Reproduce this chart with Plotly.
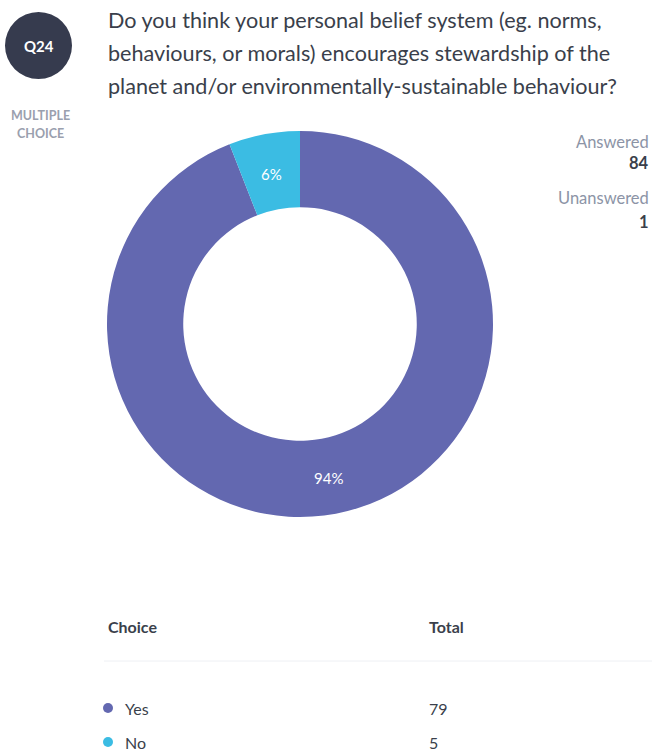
import math
import plotly.graph_objects as go

# Survey question Q24 results
question_id = "Q24"
question_lines = [
    "Do you think your personal belief system (eg. norms,",
    "behaviours, or morals) encourages stewardship of the",
    "planet and/or environmentally-sustainable behaviour?",
]
question_type = ["MULTIPLE", "CHOICE"]
choices = ["Yes", "No"]
totals = [79, 5]
answered = 84
unanswered = 1
choice_colors = ["#6368B0", "#3BBCE3"]

W, H = 652, 754
FONT = "Lato"
DARK = "#3A3F4B"
MUTED = "#8C94A6"

# donut geometry (pixels)
CX, CY, R_OUT = 300, 324, 193
HOLE = 0.605
R_LABEL = R_OUT * (1 + HOLE) / 2


def px(x):
    return x / W


def py(y):
    return 1 - y / H


fig = go.Figure()

fig.add_trace(go.Pie(
    labels=choices,
    values=totals,
    hole=HOLE,
    sort=False,
    direction="clockwise",
    rotation=0,
    marker=dict(colors=choice_colors, line=dict(width=0)),
    textinfo="none",
    domain=dict(x=[px(CX - R_OUT), px(CX + R_OUT)], y=[py(CY + R_OUT), py(CY - R_OUT)]),
    showlegend=False,
    hoverinfo="label+value+percent",
))

annotations = []
shapes = []

# Percentage labels placed at the middle of each slice
total_sum = sum(totals)
cum = 0
for v in totals:
    mid = (cum + v / 2) / total_sum * 2 * math.pi
    cum += v
    lx = CX + R_LABEL * math.sin(mid)
    ly = CY - R_LABEL * math.cos(mid) + 2
    annotations.append(dict(x=px(lx), y=py(ly), xref="paper", yref="paper",
                            text=f"{round(100 * v / total_sum)}%", showarrow=False,
                            font=dict(family=FONT, size=15, color="white"),
                            xanchor="center", yanchor="middle"))

# Question badge
shapes.append(dict(type="circle", xref="paper", yref="paper",
                   x0=px(5), x1=px(72), y0=py(79), y1=py(12),
                   fillcolor="#363B4E", line=dict(width=0)))
annotations.append(dict(x=px(38.5), y=py(46), xref="paper", yref="paper",
                        text="<b>" + question_id + "</b>", showarrow=False,
                        font=dict(family=FONT, size=15, color="white"),
                        xanchor="center", yanchor="middle"))

# Question text
for i, line in enumerate(question_lines):
    annotations.append(dict(x=px(106), y=py(20 + 33 * i), xref="paper", yref="paper",
                            text=line, showarrow=False,
                            font=dict(family=FONT, size=21.6, color=DARK),
                            xanchor="left", yanchor="middle"))

# Question type label
for i, word in enumerate(question_type):
    annotations.append(dict(x=px(40), y=py(115 + 18 * i), xref="paper", yref="paper",
                            text="<b>" + word + "</b>", showarrow=False,
                            font=dict(family=FONT, size=12.5, color="#9AA0AE"),
                            xanchor="center", yanchor="middle"))

# Response counts
side = [("Answered", MUTED, False, 142), (str(answered), DARK, True, 163),
        ("Unanswered", MUTED, False, 198), (str(unanswered), DARK, True, 222)]
for text, color, bold, y in side:
    annotations.append(dict(x=px(651), y=py(y), xref="paper", yref="paper",
                            text="<b>" + text + "</b>" if bold else text,
                            showarrow=False,
                            font=dict(family=FONT, size=16.5, color=color),
                            xanchor="right", yanchor="middle"))

# Table header
for text, x in [("Choice", 106), ("Total", 427)]:
    annotations.append(dict(x=px(x), y=py(626), xref="paper", yref="paper",
                            text="<b>" + text + "</b>", showarrow=False,
                            font=dict(family=FONT, size=16, color=DARK),
                            xanchor="left", yanchor="middle"))
shapes.append(dict(type="line", xref="paper", yref="paper",
                   x0=px(104), x1=px(652), y0=py(661), y1=py(661),
                   line=dict(color="#EEF0F4", width=1)))

# Table rows
for i, (choice, total, color) in enumerate(zip(choices, totals, choice_colors)):
    y = 708 + 34 * i
    shapes.append(dict(type="circle", xref="paper", yref="paper",
                       x0=px(103), x1=px(113), y0=py(y + 5), y1=py(y - 5),
                       fillcolor=color, line=dict(width=0)))
    annotations.append(dict(x=px(123), y=py(y), xref="paper", yref="paper",
                            text=choice, showarrow=False,
                            font=dict(family=FONT, size=16, color=DARK),
                            xanchor="left", yanchor="middle"))
    annotations.append(dict(x=px(427), y=py(y), xref="paper", yref="paper",
                            text=str(total), showarrow=False,
                            font=dict(family=FONT, size=16, color=DARK),
                            xanchor="left", yanchor="middle"))

fig.update_layout(
    width=W, height=H,
    margin=dict(l=0, r=0, t=0, b=0),
    paper_bgcolor="white",
    plot_bgcolor="white",
    annotations=annotations,
    shapes=shapes,
    font=dict(family=FONT),
)

fig.write_html("out.html")
